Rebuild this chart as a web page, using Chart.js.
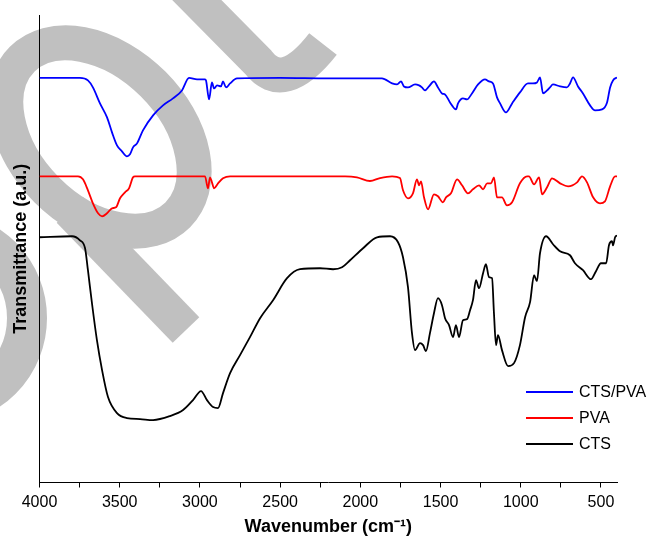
<!DOCTYPE html>
<html lang="en">
<head>
<meta charset="UTF-8">
<title>FTIR spectra - CTS, PVA, CTS/PVA</title>
<style>
  html, body { margin: 0; padding: 0; background: #fff; }
  #wrap { width: 651px; height: 540px; position: relative; }
</style>
</head>
<body>
<div id="wrap"><canvas id="ftir"></canvas></div>

<script src="https://cdn.jsdelivr.net/npm/chart.js@4.4.1/dist/chart.umd.min.js"></script>
<script>
// values; transmittance is in arbitrary (offset) units
const ctsPvaWave = [4000, 3748, 3698, 3667, 3623, 3579, 3548, 3517, 3486, 3455, 3436, 3417, 3392, 3355, 3292, 3230, 3168, 3112, 3068,
    3018, 2968, 2962, 2943, 2925, 2912, 2893, 2869, 2856, 2837, 2812, 2769, 2500, 2200, 1865, 1802, 1771, 1746, 1728, 1703, 1659,
    1634, 1616, 1597, 1572, 1541, 1516, 1491, 1472, 1441, 1404, 1391, 1360, 1335, 1304, 1266, 1223, 1198, 1173, 1148, 1129, 1092,
    1054, 1005, 955, 924, 899, 880, 861, 836, 818, 799, 755, 712, 693, 674, 643, 612, 568, 537, 493, 462, 443, 425, 400];
const ctsPvaT = [405, 405, 402.5, 395.5, 379.5, 365.5, 350.5, 337.5, 331.5, 326.5, 328.5, 335.5, 339.5, 352.5, 367.5, 377.5, 384.5, 392.5, 405,
    403.5, 403.5, 402.5, 383.5, 400.5, 394.5, 397.5, 396.5, 401.5, 395.5, 399.5, 404.5, 405, 404.5, 404.5, 399.5, 398.5, 401.5, 396.5, 395.5, 398.5,
    397.5, 395.5, 392.5, 396.5, 401.5, 395.5, 389.5, 388.5, 380.5, 373.5, 379.5, 384.5, 383.5, 389.5, 398.5, 403.5, 401.5, 399.5, 385.5, 379.5, 370.5,
    379.5, 390.5, 399.5, 399.5, 400.5, 405.5, 389.5, 392.5, 395.5, 398.5, 396.5, 395.5, 399.5, 405.5, 396.5, 389.5, 377.5, 372.5, 373.5, 380.5, 395.5, 402.5, 405.5];

const pvaWave = [4000, 3760, 3729, 3698, 3667, 3635, 3610, 3579, 3548, 3523, 3498, 3467, 3442, 3417, 3405, 2968, 2950, 2937, 2925, 2912,
    2887, 2856, 2812, 2095, 2021, 1940, 1877, 1802, 1753, 1734, 1703, 1672, 1647, 1634, 1622, 1603, 1578, 1541, 1516, 1485,
    1466, 1435, 1397, 1366, 1329, 1298, 1260, 1235, 1210, 1185, 1167, 1148, 1117, 1086, 1054, 1005, 961, 949, 917, 886,
    867, 836, 805, 755, 705, 649, 618, 587, 549, 506, 475, 443, 412, 400];
const pvaT = [306.5, 306.5, 303.5, 292.5, 279.5, 269.5, 266.5, 269.5, 274.5, 275.5, 284.5, 290.5, 294.5, 305.5, 306.5, 306.5, 294.5, 305.5, 300.5, 294.5,
    299.5, 304.5, 306.5, 306.5, 305.5, 301.8, 304.8, 306.5, 304.8, 292.5, 284.5, 289.5, 303.5, 297.5, 301.5, 285.5, 273.5, 288.5, 286.5, 280.5,
    285.5, 289.5, 303.5, 297.5, 289.5, 293.5, 297.5, 293.5, 299.5, 299.5, 305.5, 285.5, 285.5, 277.5, 280.5, 299.5, 306.5, 306.5, 298.5, 305.5,
    288.5, 295.5, 304.5, 299.5, 296.5, 300.5, 306.5, 300.5, 285.5, 279.5, 281.5, 296.5, 306.5, 306.5];

const ctsWave = [4000, 3797, 3748, 3716, 3698, 3673, 3642, 3610, 3573, 3517, 3455, 3373, 3292, 3186, 3105, 3043, 2993, 2956, 2918, 2887,
    2856, 2812, 2750, 2688, 2625, 2544, 2457, 2376, 2251, 2170, 2114, 2064, 1983, 1896, 1815, 1765, 1734, 1703, 1678, 1659,
    1628, 1609, 1591, 1566, 1541, 1516, 1491, 1472, 1447, 1422, 1404, 1385, 1360, 1335, 1316, 1298, 1279, 1260, 1235, 1217,
    1198, 1179, 1167, 1154, 1142, 1117, 1079, 1042, 1005, 973, 942, 917, 899, 880, 842, 799, 755, 693, 662, 612,
    562, 531, 500, 468, 450, 431, 425, 412, 400];
const ctsT = [245.5, 246.5, 242.5, 234.5, 212.5, 179.5, 142.5, 112.5, 85.5, 69.5, 64.5, 63.5, 62.5, 66.5, 72.5, 82.5, 91.5, 82.5, 75.5, 74.5,
    89.5, 109.5, 127.5, 145.5, 164.5, 182.5, 204.5, 213.5, 214.5, 213.5, 215.5, 222.5, 234.5, 245.5, 246.5, 240.5, 225.5, 195.5, 149.5, 132.5,
    139.5, 137.5, 131.5, 149.5, 169.5, 184.5, 177.5, 164.5, 157.5, 145.5, 157.5, 145.5, 162.5, 163.5, 172.5, 182.5, 202.5, 194.5, 209.5, 218.5,
    205.5, 204.5, 169.5, 137.5, 147.5, 132.5, 116.5, 119.5, 137.5, 165.5, 180.5, 207.5, 201.5, 229.5, 246.5, 238.5, 231.5, 227.5, 219.5, 212.5,
    203.5, 211.5, 219.5, 219.5, 237.5, 241.5, 237.5, 245.5, 247.5];

const seriesLabels = ['CTS/PVA', 'PVA', 'CTS'];
const seriesColors = ['#0000ff', '#ff0000', '#000000'];

const xTicks = [4000, 3750, 3500, 3250, 3000, 2750, 2500, 2250, 2000, 1750, 1500, 1250, 1000, 750, 500];
const xTickLabels = ['4000', '3500', '3000', '2500', '2000', '1500', '1000', '500'];

function toPoints(xs, ys) {
    return xs.map((x, i) => ({ x: x, y: ys[i] }));
}

// grey watermark that sits behind the whole figure
const watermark = {
    id: 'watermark',
    beforeDraw(chart) {
        const ctx = chart.ctx;
        ctx.save();
        ctx.fillStyle = '#fff';
        ctx.fillRect(0, 0, chart.width, chart.height);
        ctx.strokeStyle = '#c0c0c0';
        ctx.lineCap = 'butt';

        ctx.lineWidth = 35;
        ctx.beginPath();
        ctx.ellipse(100, 137, 110, 75, Math.PI / 4, 0, Math.PI * 2);
        ctx.stroke();

        ctx.lineWidth = 37;
        ctx.beginPath();
        ctx.moveTo(70, 210);
        ctx.lineTo(186, 330);
        ctx.stroke();

        ctx.lineWidth = 35;
        ctx.beginPath();
        ctx.moveTo(180, -17);
        ctx.lineTo(258, 62);
        ctx.quadraticCurveTo(283, 95, 323, 44);
        ctx.stroke();

        ctx.lineWidth = 40;
        ctx.beginPath();
        ctx.arc(-60, 318, 87, 0, Math.PI * 2);
        ctx.stroke();
        ctx.restore();
    }
};

// legend drawn inside the plot, lower right
const insideLegend = {
    id: 'insideLegend',
    afterDraw(chart) {
        const ctx = chart.ctx;
        const x = 526, y0 = 392, len = 47, row = 26;
        ctx.save();
        ctx.font = '16px "Liberation Sans", Arial, sans-serif';
        ctx.textBaseline = 'middle';
        ctx.fillStyle = '#000';
        chart.data.datasets.forEach((ds, i) => {
            const y = y0 + i * row;
            ctx.strokeStyle = ds.borderColor;
            ctx.lineWidth = 1.8;
            ctx.beginPath();
            ctx.moveTo(x, y);
            ctx.lineTo(x + len, y);
            ctx.stroke();
            ctx.fillText(ds.label, x + len + 6, y + 1);
        });
        ctx.restore();
    }
};

Chart.defaults.font.family = '"Liberation Sans", Arial, sans-serif';
Chart.defaults.color = '#000';

const waves = [ctsPvaWave, pvaWave, ctsWave];
const values = [ctsPvaT, pvaT, ctsT];

new Chart(document.getElementById('ftir'), {
    type: 'line',
    data: {
        datasets: seriesLabels.map((label, i) => ({
            label: label,
            data: toPoints(waves[i], values[i]),
            borderColor: seriesColors[i],
            borderWidth: 1.8,
            pointRadius: 0,
            fill: false,
            cubicInterpolationMode: 'monotone'
        }))
    },
    options: {
        responsive: true,
        maintainAspectRatio: false,
        animation: false,
        devicePixelRatio: 1,
        layout: { padding: { left: 0, right: 34, top: 15, bottom: 0 } },
        plugins: {
            legend: { display: false },
            tooltip: { enabled: false }
        },
        scales: {
            x: {
                type: 'linear',
                reverse: true,
                min: 400,
                max: 4000,
                afterBuildTicks: s => { s.ticks = xTicks.map(v => ({ value: v })); },
                afterFit: s => { s.height = 57.5; },
                grid: { display: true, drawOnChartArea: false, drawTicks: true, tickLength: 5, color: '#000', lineWidth: 1 },
                border: { display: true, color: '#000', width: 1 },
                ticks: {
                    autoSkip: false,
                    maxRotation: 0,
                    padding: 5,
                    font: { size: 16 },
                    callback: v => xTickLabels.includes(String(v)) ? String(v) : ''
                },
                title: {
                    display: true,
                    text: 'Wavenumber (cm\u207B\u00B9)',
                    font: { size: 18, weight: 'bold' },
                    padding: { top: 0, bottom: 2 }
                }
            },
            y: {
                type: 'linear',
                min: 0,
                max: 468,
                afterFit: s => { s.width = 39.5; },
                grid: { display: false },
                border: { display: true, color: '#000', width: 1 },
                ticks: { display: false },
                title: {
                    display: true,
                    text: 'Transmittance (a.u.)',
                    font: { size: 18, weight: 'bold' },
                    padding: { top: 10, bottom: 0 }
                }
            }
        }
    },
    plugins: [watermark, insideLegend]
});
</script>
</body>
</html>
